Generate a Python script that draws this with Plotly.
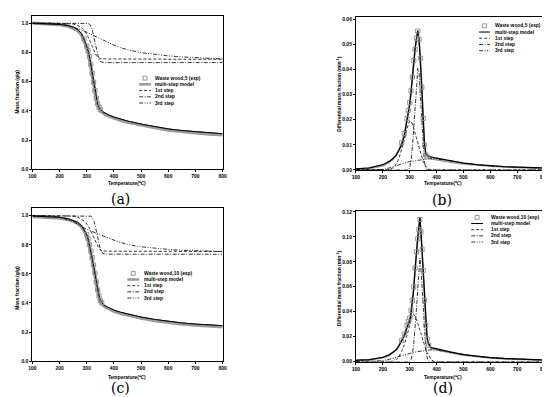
import plotly.graph_objects as go

W, H = 550, 397

# ---------------- data ----------------
T_tga = [100, 150, 200, 230, 250, 265, 280, 290, 300, 305, 310, 315, 320, 325, 330, 335,
         340, 345, 350, 355, 360, 370, 380, 400, 425, 450, 500, 550, 600, 650, 700, 750, 800]

# (a) Waste wood, 5 K/min  - TGA
exp_a = [0.998, 0.995, 0.991, 0.984, 0.973, 0.958, 0.930, 0.892, 0.843, 0.812, 0.772, 0.716, 0.656,
         0.596, 0.538, 0.487, 0.449, 0.424, 0.408, 0.399, 0.392, 0.381, 0.372, 0.357, 0.342, 0.330,
         0.309, 0.292, 0.276, 0.265, 0.256, 0.249, 0.243]
model_a = [1.000, 0.997, 0.990, 0.980, 0.967, 0.952, 0.922, 0.882, 0.833, 0.800, 0.760, 0.705, 0.645,
           0.585, 0.528, 0.478, 0.442, 0.417, 0.401, 0.391, 0.384, 0.373, 0.364, 0.349, 0.334, 0.322,
           0.301, 0.284, 0.268, 0.257, 0.248, 0.241, 0.235]
step1_a = [1.000, 1.000, 0.999, 0.997, 0.994, 0.986, 0.970, 0.952, 0.925, 0.908, 0.888, 0.866, 0.842,
           0.818, 0.797, 0.779, 0.767, 0.760, 0.757, 0.756, 0.755, 0.755, 0.755, 0.755, 0.754, 0.754,
           0.754, 0.754, 0.753, 0.753, 0.753, 0.753, 0.753]
step2_a = [1.000, 1.000, 1.000, 1.000, 1.000, 1.000, 1.000, 1.000, 1.000, 0.998, 0.993, 0.980, 0.955,
           0.915, 0.865, 0.815, 0.775, 0.750, 0.738, 0.733, 0.731, 0.730, 0.730, 0.730, 0.730, 0.730,
           0.730, 0.730, 0.730, 0.730, 0.730, 0.730, 0.730]
step3_a = [1.000, 0.999, 0.993, 0.984, 0.974, 0.965, 0.954, 0.946, 0.937, 0.933, 0.928, 0.924, 0.919,
           0.914, 0.910, 0.905, 0.901, 0.896, 0.892, 0.887, 0.883, 0.874, 0.866, 0.850, 0.832, 0.818,
           0.798, 0.785, 0.776, 0.769, 0.763, 0.758, 0.755]

# (c) Waste wood, 10 K/min - TGA
exp_c = [0.997, 0.994, 0.988, 0.979, 0.968, 0.955, 0.933, 0.906, 0.870, 0.841, 0.801, 0.756, 0.711,
         0.661, 0.606, 0.546, 0.490, 0.449, 0.418, 0.401, 0.391, 0.378, 0.368, 0.351, 0.336, 0.324,
         0.303, 0.287, 0.273, 0.263, 0.255, 0.249, 0.244]
model_c = [0.993, 0.990, 0.983, 0.973, 0.962, 0.948, 0.925, 0.897, 0.860, 0.830, 0.790, 0.745, 0.700,
           0.650, 0.595, 0.535, 0.480, 0.440, 0.410, 0.393, 0.383, 0.370, 0.360, 0.343, 0.328, 0.316,
           0.295, 0.279, 0.265, 0.255, 0.247, 0.241, 0.236]
step1_c = [1.000, 1.000, 1.000, 0.999, 0.997, 0.992, 0.978, 0.963, 0.943, 0.930, 0.913, 0.893, 0.872,
           0.850, 0.828, 0.807, 0.789, 0.775, 0.765, 0.759, 0.757, 0.756, 0.756, 0.755, 0.755, 0.755,
           0.755, 0.754, 0.754, 0.754, 0.754, 0.754, 0.754]
step2_c = [1.000, 1.000, 1.000, 1.000, 1.000, 1.000, 1.000, 1.000, 1.000, 1.000, 1.000, 0.996, 0.988,
           0.970, 0.940, 0.895, 0.845, 0.800, 0.768, 0.750, 0.741, 0.736, 0.735, 0.735, 0.735, 0.735,
           0.735, 0.735, 0.735, 0.735, 0.735, 0.735, 0.735]
step3_c = [1.000, 0.998, 0.990, 0.975, 0.960, 0.943, 0.925, 0.915, 0.905, 0.902, 0.899, 0.896, 0.892,
           0.888, 0.884, 0.880, 0.876, 0.872, 0.868, 0.864, 0.860, 0.852, 0.845, 0.832, 0.815, 0.802,
           0.786, 0.776, 0.768, 0.762, 0.758, 0.755, 0.753]

# (b) Waste wood, 5 K/min - DTG
T_b = [100, 150, 200, 225, 240, 250, 260, 270, 280, 290, 295, 300, 305, 310, 315, 320, 325, 330, 335,
       340, 345, 350, 355, 360, 365, 370, 380, 390, 400, 450, 500, 550, 600, 650, 700, 750, 800]
exp_b = [0.0003, 0.0006, 0.0016, 0.0030, 0.0046, 0.0060, 0.0082, 0.0108, 0.0145, 0.0205, 0.0237,
         0.0268, 0.0315, 0.0370, 0.0435, 0.0480, 0.0525, 0.0553, 0.0520, 0.0445, 0.0330, 0.0205,
         0.0100, 0.0060, 0.0052, 0.0048, 0.0044, 0.0042, 0.0040, 0.0031, 0.0024, 0.0019, 0.0015,
         0.0012, 0.0010, 0.0008, 0.0006]
model_b = [0.0004, 0.0008, 0.0021, 0.0035, 0.0048, 0.0060, 0.0078, 0.0100, 0.0135, 0.0195, 0.0228,
           0.0260, 0.0310, 0.0375, 0.0440, 0.0485, 0.0520, 0.0555, 0.0515, 0.0440, 0.0325, 0.0205,
           0.0105, 0.0065, 0.0058, 0.0055, 0.0051, 0.0049, 0.0047, 0.0036, 0.0027, 0.0021, 0.0016,
           0.0013, 0.0011, 0.0009, 0.0008]
step1_b = [0.0, 0.0, 0.0, 0.0001, 0.0010, 0.0024, 0.0045, 0.0078, 0.0120, 0.0165, 0.0185, 0.0195,
           0.0193, 0.0183, 0.0166, 0.0146, 0.0125, 0.0103, 0.0083, 0.0065, 0.0048, 0.0034, 0.0022,
           0.0013, 0.0007, 0.0003, 0.0, 0.0, 0.0, 0.0, 0.0, 0.0, 0.0, 0.0, 0.0, 0.0, 0.0]
step2_b = [0.0, 0.0, 0.0, 0.0, 0.0, 0.0, 0.0, 0.0, 0.0, 0.0, 0.0, 0.0010, 0.0040, 0.0090, 0.0155,
           0.0235, 0.0320, 0.0405, 0.0385, 0.0290, 0.0185, 0.0090, 0.0030, 0.0006, 0.0, 0.0, 0.0,
           0.0, 0.0, 0.0, 0.0, 0.0, 0.0, 0.0, 0.0, 0.0, 0.0]
step3_b = [0.0, 0.0, 0.0002, 0.0008, 0.0014, 0.0018, 0.0022, 0.0025, 0.0028, 0.0031, 0.0032, 0.0033,
           0.0034, 0.0035, 0.0036, 0.0037, 0.0038, 0.0039, 0.0040, 0.0041, 0.0042, 0.0043, 0.0043,
           0.0044, 0.0044, 0.0045, 0.0045, 0.0045, 0.0044, 0.0036, 0.0027, 0.0021, 0.0016, 0.0013,
           0.0011, 0.0009, 0.0008]

# (d) Waste wood, 10 K/min - DTG
T_d = [100, 150, 200, 225, 240, 250, 260, 270, 280, 290, 295, 300, 305, 310, 315, 320, 325, 330, 334,
       338, 342, 346, 350, 355, 360, 365, 370, 380, 390, 400, 450, 500, 550, 600, 650, 700, 750, 800]
exp_d = [0.0008, 0.0012, 0.0030, 0.0050, 0.0075, 0.0095, 0.0130, 0.0170, 0.0220, 0.0290, 0.0320,
         0.0350, 0.0410, 0.0490, 0.0600, 0.0750, 0.0880, 0.0985, 0.1060, 0.1140, 0.1040, 0.0900,
         0.0730, 0.0490, 0.0290, 0.0180, 0.0130, 0.0102, 0.0097, 0.0093, 0.0071, 0.0051, 0.0038,
         0.0029, 0.0022, 0.0017, 0.0013, 0.0010]
model_d = [0.0010, 0.0015, 0.0034, 0.0055, 0.0078, 0.0095, 0.0125, 0.0160, 0.0205, 0.0270, 0.0295,
           0.0325, 0.0380, 0.0460, 0.0580, 0.0735, 0.0890, 0.1000, 0.1080, 0.1160, 0.1030, 0.0880,
           0.0710, 0.0480, 0.0290, 0.0185, 0.0145, 0.0112, 0.0107, 0.0103, 0.0078, 0.0056, 0.0041,
           0.0031, 0.0024, 0.0019, 0.0015, 0.0012]
step1_d = [0.0, 0.0, 0.0, 0.0, 0.0002, 0.0015, 0.0040, 0.0080, 0.0135, 0.0210, 0.0255, 0.0300,
           0.0345, 0.0375, 0.0380, 0.0365, 0.0340, 0.0305, 0.0275, 0.0245, 0.0215, 0.0185, 0.0160,
           0.0128, 0.0098, 0.0072, 0.0050, 0.0015, 0.0, 0.0, 0.0, 0.0, 0.0, 0.0, 0.0, 0.0, 0.0, 0.0]
step2_d = [0.0, 0.0, 0.0, 0.0, 0.0, 0.0, 0.0, 0.0, 0.0, 0.0, 0.0, 0.0, 0.0015, 0.0060, 0.0140,
           0.0260, 0.0420, 0.0580, 0.0720, 0.0830, 0.0740, 0.0580, 0.0420, 0.0230, 0.0100, 0.0030,
           0.0005, 0.0, 0.0, 0.0, 0.0, 0.0, 0.0, 0.0, 0.0, 0.0, 0.0, 0.0]
step3_d = [0.0, 0.0, 0.0006, 0.0018, 0.0028, 0.0035, 0.0042, 0.0049, 0.0056, 0.0062, 0.0065, 0.0068,
           0.0070, 0.0072, 0.0074, 0.0076, 0.0078, 0.0080, 0.0082, 0.0084, 0.0085, 0.0087, 0.0088,
           0.0089, 0.0090, 0.0091, 0.0092, 0.0093, 0.0093, 0.0092, 0.0074, 0.0055, 0.0041, 0.0031,
           0.0024, 0.0019, 0.0015, 0.0012]

x_ticks = [100, 200, 300, 400, 500, 600, 700, 800]
tga_ticks = [0.0, 0.2, 0.4, 0.6, 0.8, 1.0]
dtg5_ticks = [0.00, 0.01, 0.02, 0.03, 0.04, 0.05, 0.06]
dtg10_ticks = [0.00, 0.02, 0.04, 0.06, 0.08, 0.10, 0.12]

names_5 = ["Waste wood,5 (exp)", "multi-step model", "1st step", "2nd step", "3rd step"]
names_10 = ["Waste wood,10 (exp)", "multi-step model", "1st step", "2nd step", "3rd step"]
panel_labels = ["(a)", "(b)", "(c)", "(d)"]
x_title = "Temperature(℃)"
y_title_tga = "Mass fraction (g/g)"
y_title_dtg = "Differential mass fraction (min<sup>-1</sup>)"

# ---------------- styles ----------------
FONT = "Liberation Sans"
GRAY = "#8c8c8c"
DASH1 = "3px,2px"
DASH2 = "4px,1.5px,1px,1.5px"
DASH3 = "4px,1.5px,1px,1.5px,1px,1.5px"
TXT = 4.9

fig = go.Figure()


def add_panel(idx, T, exp, model, s1, s2, s3, mark_lo, mark_hi, tga):
    xa = "x" if idx == 1 else f"x{idx}"
    ya = "y" if idx == 1 else f"y{idx}"
    model_style = dict(color="#9a9a9a", width=3.2) if tga else dict(color="black", width=1.3)
    exp_line = dict(color="black", width=1.0) if tga else dict(color="#a0a0a0", width=1.6)
    fig.add_trace(go.Scatter(x=T, y=exp, mode="lines", line=exp_line,
                             xaxis=xa, yaxis=ya, showlegend=False, hoverinfo="skip"))
    fig.add_trace(go.Scatter(x=T, y=model, mode="lines", line=model_style,
                             xaxis=xa, yaxis=ya, showlegend=False, hoverinfo="skip"))
    if tga:
        fig.add_trace(go.Scatter(x=T, y=exp, mode="lines", line=exp_line,
                                 xaxis=xa, yaxis=ya, showlegend=False, hoverinfo="skip"))
    for s, d in ((s1, DASH1), (s2, DASH2), (s3, DASH3)):
        fig.add_trace(go.Scatter(x=T, y=s, mode="lines", line=dict(color="black", width=0.8, dash=d),
                                 xaxis=xa, yaxis=ya, showlegend=False, hoverinfo="skip"))
    mx = [t for t in T if mark_lo <= t <= mark_hi]
    my = [v for t, v in zip(T, exp) if mark_lo <= t <= mark_hi]
    fig.add_trace(go.Scatter(x=mx, y=my, mode="markers",
                             marker=dict(symbol="square-open", size=4.2, color=GRAY, line=dict(width=0.9)),
                             xaxis=xa, yaxis=ya, showlegend=False, hoverinfo="skip"))
    return model_style


ms_a = add_panel(1, T_tga, exp_a, model_a, step1_a, step2_a, step3_a, 285, 350, True)
ms_b = add_panel(2, T_b, exp_b, model_b, step1_b, step2_b, step3_b, 265, 365, False)
ms_c = add_panel(3, T_tga, exp_c, model_c, step1_c, step2_c, step3_c, 295, 355, True)
ms_d = add_panel(4, T_d, exp_d, model_d, step1_d, step2_d, step3_d, 265, 370, False)


def px(xp):
    return xp / W


def py(yp):
    return 1 - yp / H


shapes = []
annotations = []


def legend(names, x_sym0, x_sym1, x_text, y0, dy, model_style):
    xc = (x_sym0 + x_sym1) / 2
    for i, name in enumerate(names):
        y = y0 + i * dy
        if i == 0:
            shapes.append(dict(type="rect", xref="paper", yref="paper",
                               x0=px(xc - 2), x1=px(xc + 2), y0=py(y + 2), y1=py(y - 2),
                               line=dict(color=GRAY, width=0.9)))
        else:
            if i == 1:
                ln = dict(color=model_style["color"], width=model_style["width"] * 0.8)
            else:
                ln = dict(color="black", width=0.8, dash=[DASH1, DASH2, DASH3][i - 2])
            shapes.append(dict(type="line", xref="paper", yref="paper",
                               x0=px(x_sym0), x1=px(x_sym1), y0=py(y), y1=py(y), line=ln))
        annotations.append(dict(text=f"<b>{name}</b>", xref="paper", yref="paper",
                                x=px(x_text), y=py(y), xanchor="left", yanchor="middle",
                                showarrow=False, font=dict(family=FONT, size=TXT, color="black")))


legend(names_5, 129, 141, 143.5, 69, 6.3, ms_a)
legend(names_5, 474, 485, 488, 16, 6.3, ms_b)
legend(names_10, 117, 129, 131.5, 266.7, 6.25, ms_c)
legend(names_10, 466, 478, 484, 210, 6.25, ms_d)

# axis titles & panel labels
for (xc, yc, txt) in [(117, 176, x_title), (437, 176, x_title), (117, 371.7, x_title), (437, 371.7, x_title)]:
    annotations.append(dict(text=f"<b>{txt}</b>", xref="paper", yref="paper", x=px(xc), y=py(yc),
                            xanchor="center", yanchor="middle", showarrow=False,
                            font=dict(family=FONT, size=TXT, color="black")))
for (xc, yc, txt) in [(5.7, 83, y_title_tga), (331.7, 85, y_title_dtg),
                      (5.7, 281.7, y_title_tga), (331.7, 281.7, y_title_dtg)]:
    annotations.append(dict(text=f"<b>{txt}</b>", xref="paper", yref="paper", x=px(xc), y=py(yc),
                            xanchor="center", yanchor="middle", showarrow=False, textangle=-90,
                            font=dict(family=FONT, size=TXT, color="black")))
for (xc, yc, txt) in [(110, 191, panel_labels[0]), (436, 192, panel_labels[1]),
                      (110, 383, panel_labels[2]), (437, 383, panel_labels[3])]:
    annotations.append(dict(text=txt, xref="paper", yref="paper", x=px(xc), y=py(yc),
                            xanchor="center", yanchor="middle", showarrow=False,
                            font=dict(family="DejaVu Serif", size=14, color="black")))

axis_common = dict(showline=True, mirror=True, linecolor="black", linewidth=1, showgrid=False,
                   zeroline=False, ticks="outside", ticklen=2, tickwidth=0.8, tickcolor="black",
                   tickfont=dict(family=FONT, size=5.0, color="black", weight="bold"))

xdom_l = [20.7 / W, 213.7 / W]
xdom_r = [349 / W, 540 / W]

fig.update_layout(
    width=W, height=H, margin=dict(l=0, r=0, t=0, b=0),
    paper_bgcolor="white", plot_bgcolor="white", showlegend=False,
    xaxis=dict(domain=xdom_l, range=[100, 800], tickvals=x_ticks, anchor="y", **axis_common),
    yaxis=dict(domain=[0.5937, 0.9851], range=[0, 1.05], tickvals=tga_ticks, tickformat=".1f",
               anchor="x", **axis_common),
    xaxis2=dict(domain=xdom_r, range=[100, 800], tickvals=x_ticks, anchor="y2", **axis_common),
    yaxis2=dict(domain=[0.5919, 0.9829], range=[0, 0.061], tickvals=dtg5_ticks, tickformat=".2f",
                anchor="x2", **axis_common),
    xaxis3=dict(domain=xdom_l, range=[100, 800], tickvals=x_ticks, anchor="y3", **axis_common),
    yaxis3=dict(domain=[0.1040, 0.4940], range=[0, 1.05], tickvals=tga_ticks, tickformat=".1f",
                anchor="x3", **axis_common),
    xaxis4=dict(domain=xdom_r, range=[100, 800], tickvals=x_ticks, anchor="y4", **axis_common),
    yaxis4=dict(domain=[0.1033, 0.4879], range=[0, 0.121], tickvals=dtg10_ticks, tickformat=".2f",
                anchor="x4", **axis_common),
    shapes=shapes, annotations=annotations,
)

fig.write_html("out.html")
